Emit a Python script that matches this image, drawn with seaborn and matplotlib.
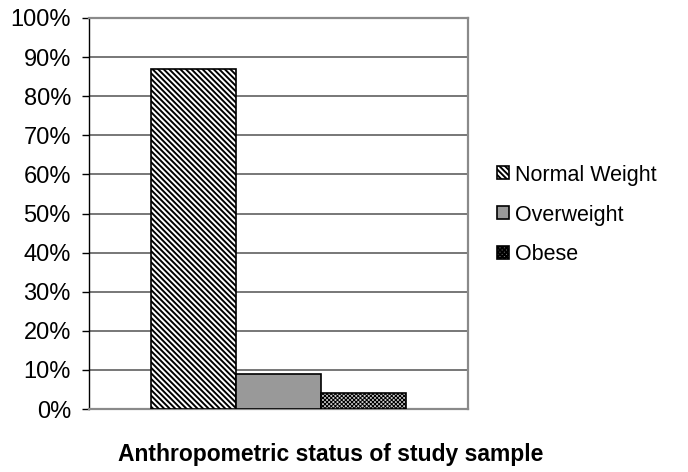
import matplotlib
matplotlib.use("Agg")
import matplotlib.pyplot as plt
import seaborn as sns
import pandas as pd

# Anthropometric status shares (%)
statuses = ["Normal Weight", "Overweight", "Obese"]
shares = [87, 9, 4]
group = ["Study sample"] * len(statuses)
y_ticks = list(range(0, 101, 10))
y_tick_labels = [f"{t}%" for t in y_ticks]
title_text = "Anthropometric status of study sample"

df = pd.DataFrame({"group": group, "status": statuses, "share": shares})

sns.set_theme(style="white")
plt.rcParams["font.family"] = ["Liberation Sans", "DejaVu Sans"]
plt.rcParams["hatch.linewidth"] = 1.4
plt.rcParams["text.color"] = "black"
plt.rcParams["ytick.color"] = "black"
plt.rcParams["ytick.labelcolor"] = "black"

fig = plt.figure(figsize=(6.88, 4.72), dpi=100)
ax = fig.add_axes([89 / 688, 1 - 409 / 472, (468 - 89) / 688, (409 - 18) / 472])

face = {"Normal Weight": "white", "Overweight": "#999999", "Obese": "#cccccc"}
hatches = {"Normal Weight": "\\" * 6, "Overweight": "", "Obese": "x" * 8}

sns.barplot(data=df, x="group", y="share", hue="status", hue_order=statuses,
            palette=face, width=0.673, dodge=True, ax=ax, legend=False,
            edgecolor="black", linewidth=1.2, saturation=1, zorder=3)

handles = []
for cont, name in zip(ax.containers, statuses):
    for p in cont.patches:
        p.set_hatch(hatches[name])
        if name == "Obese" and hasattr(p, "set_hatch_linewidth"):
            p.set_hatch_linewidth(0.7)
        if hasattr(p, "set_hatchcolor"):
            p.set_hatchcolor("#555555" if name == "Obese" else "#222222")
    handles.append(cont.patches[0])

ax.set_ylim(0, 100)
ax.set_yticks(y_ticks)
ax.set_yticklabels(y_tick_labels, fontsize=17, color="black")
ax.set_xticks([])
ax.set_xlabel("")
ax.set_ylabel("")
ax.grid(axis="y", color="#606060", linewidth=1.2, zorder=0)
ax.set_axisbelow(True)
ax.tick_params(axis="y", left=True, length=5, width=1.0, color="black", pad=8)

for side in ["top", "right", "bottom"]:
    ax.spines[side].set_color("#8a8a8a")
    ax.spines[side].set_linewidth(1.6)
ax.spines["left"].set_color("black")
ax.spines["left"].set_linewidth(1.0)

fig.legend(handles=handles, labels=statuses, loc="center left",
           bbox_to_anchor=(497 / 688, 1 - 215 / 472), frameon=False,
           fontsize=15.5, handlelength=0.55, handleheight=0.55,
           handletextpad=0.3, labelspacing=0.88, borderpad=0, borderaxespad=0,
           labelcolor="black")

fig.text(331 / 688, 1 - 455 / 472, title_text, ha="center", va="center",
         fontsize=16.5, fontweight="bold", color="black")

fig.savefig("out.png", dpi=100)
